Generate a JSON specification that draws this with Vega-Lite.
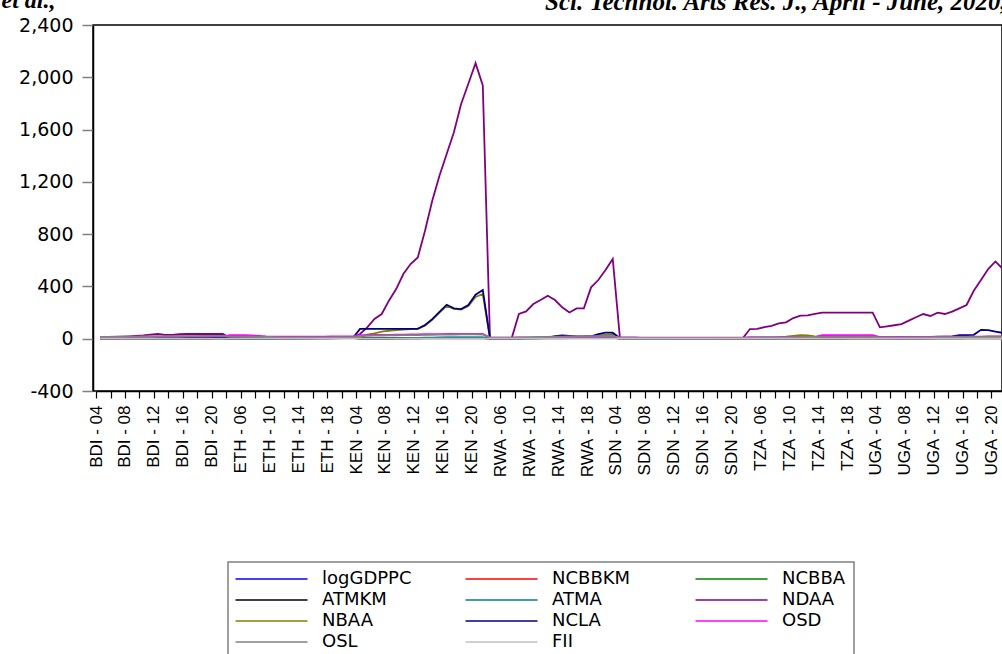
{
"$schema": "https://vega.github.io/schema/vega-lite/v6.json",
"autosize": {"type": "none"},
"padding": {"left": 93, "top": 25, "right": 0, "bottom": 263},
"width": 909,
"height": 366,
"background": "#ffffff",
"title": {"text": "Sci. Technol. Arts Res. J., April - June, 2020, 9(2), 29-44", "anchor": "start", "frame": "group", "dx": 452, "dy": 31, "offset": 4, "font": "Liberation Serif", "fontStyle": "italic", "fontWeight": "bold", "fontSize": 25, "color": "#000"},
"data": {"values": [
{"o":"BDI - 04","logGDPPC":5.4,"NCBBKM":0.8,"NCBBA":2.0,"ATMKM":0,"ATMA":0,"NDAA":10,"NBAA":2,"NCLA":3,"OSD":12,"OSL":14,"FII":0.4},
{"o":"BDI - 05","logGDPPC":5.4,"NCBBKM":0.9,"NCBBA":2.1,"ATMKM":0,"ATMA":0,"NDAA":12,"NBAA":2,"NCLA":3,"OSD":12,"OSL":14,"FII":0.4},
{"o":"BDI - 06","logGDPPC":5.4,"NCBBKM":1.0,"NCBBA":2.2,"ATMKM":0,"ATMA":0,"NDAA":14,"NBAA":2,"NCLA":3,"OSD":13,"OSL":15,"FII":0.4},
{"o":"BDI - 07","logGDPPC":5.4,"NCBBKM":1.1,"NCBBA":2.3,"ATMKM":0,"ATMA":0,"NDAA":16,"NBAA":3,"NCLA":4,"OSD":13,"OSL":15,"FII":0.4},
{"o":"BDI - 08","logGDPPC":5.5,"NCBBKM":1.2,"NCBBA":2.4,"ATMKM":0.1,"ATMA":0.2,"NDAA":18,"NBAA":3,"NCLA":4,"OSD":14,"OSL":16,"FII":0.4},
{"o":"BDI - 09","logGDPPC":5.5,"NCBBKM":1.3,"NCBBA":2.5,"ATMKM":0.2,"ATMA":0.4,"NDAA":21,"NBAA":3,"NCLA":4,"OSD":14,"OSL":16,"FII":0.5},
{"o":"BDI - 10","logGDPPC":5.5,"NCBBKM":1.4,"NCBBA":2.6,"ATMKM":0.3,"ATMA":0.6,"NDAA":25,"NBAA":3,"NCLA":5,"OSD":15,"OSL":17,"FII":0.5},
{"o":"BDI - 11","logGDPPC":5.5,"NCBBKM":1.5,"NCBBA":2.7,"ATMKM":0.4,"ATMA":0.8,"NDAA":32,"NBAA":4,"NCLA":5,"OSD":15,"OSL":17,"FII":0.5},
{"o":"BDI - 12","logGDPPC":5.5,"NCBBKM":1.6,"NCBBA":2.8,"ATMKM":0.5,"ATMA":1.0,"NDAA":36,"NBAA":4,"NCLA":5,"OSD":16,"OSL":18,"FII":0.5},
{"o":"BDI - 13","logGDPPC":5.5,"NCBBKM":1.7,"NCBBA":2.9,"ATMKM":0.6,"ATMA":1.2,"NDAA":30,"NBAA":4,"NCLA":6,"OSD":16,"OSL":18,"FII":0.5},
{"o":"BDI - 14","logGDPPC":5.6,"NCBBKM":1.8,"NCBBA":3.0,"ATMKM":0.8,"ATMA":1.5,"NDAA":30,"NBAA":4,"NCLA":6,"OSD":17,"OSL":19,"FII":0.5},
{"o":"BDI - 15","logGDPPC":5.6,"NCBBKM":1.9,"NCBBA":3.0,"ATMKM":1.0,"ATMA":1.8,"NDAA":34,"NBAA":5,"NCLA":6,"OSD":17,"OSL":19,"FII":0.5},
{"o":"BDI - 16","logGDPPC":5.6,"NCBBKM":2.0,"NCBBA":3.1,"ATMKM":1.2,"ATMA":2.0,"NDAA":36,"NBAA":5,"NCLA":7,"OSD":18,"OSL":20,"FII":0.6},
{"o":"BDI - 17","logGDPPC":5.6,"NCBBKM":2.1,"NCBBA":3.1,"ATMKM":1.4,"ATMA":2.3,"NDAA":36,"NBAA":5,"NCLA":7,"OSD":18,"OSL":20,"FII":0.6},
{"o":"BDI - 18","logGDPPC":5.6,"NCBBKM":2.2,"NCBBA":3.2,"ATMKM":1.6,"ATMA":2.5,"NDAA":36,"NBAA":5,"NCLA":7,"OSD":19,"OSL":20,"FII":0.6},
{"o":"BDI - 19","logGDPPC":5.6,"NCBBKM":2.3,"NCBBA":3.2,"ATMKM":1.8,"ATMA":2.7,"NDAA":36,"NBAA":5,"NCLA":8,"OSD":19,"OSL":21,"FII":0.6},
{"o":"BDI - 20","logGDPPC":5.5,"NCBBKM":2.4,"NCBBA":3.3,"ATMKM":2.0,"ATMA":2.9,"NDAA":36,"NBAA":5,"NCLA":8,"OSD":20,"OSL":21,"FII":0.6},
{"o":"BDI - 21","logGDPPC":5.5,"NCBBKM":2.5,"NCBBA":3.3,"ATMKM":2.1,"ATMA":3.0,"NDAA":36,"NBAA":5,"NCLA":8,"OSD":20,"OSL":21,"FII":0.6},
{"o":"ETH - 04","logGDPPC":5.0,"NCBBKM":0.3,"NCBBA":1.0,"ATMKM":0,"ATMA":0,"NDAA":5,"NBAA":3,"NCLA":2,"OSD":28,"OSL":16,"FII":0.3},
{"o":"ETH - 05","logGDPPC":5.1,"NCBBKM":0.4,"NCBBA":1.1,"ATMKM":0,"ATMA":0,"NDAA":5,"NBAA":3,"NCLA":2,"OSD":28,"OSL":16,"FII":0.3},
{"o":"ETH - 06","logGDPPC":5.2,"NCBBKM":0.5,"NCBBA":1.2,"ATMKM":0,"ATMA":0,"NDAA":5,"NBAA":3,"NCLA":2,"OSD":27,"OSL":15,"FII":0.3},
{"o":"ETH - 07","logGDPPC":5.3,"NCBBKM":0.6,"NCBBA":1.3,"ATMKM":0,"ATMA":0,"NDAA":6,"NBAA":4,"NCLA":3,"OSD":25,"OSL":15,"FII":0.3},
{"o":"ETH - 08","logGDPPC":5.4,"NCBBKM":0.7,"NCBBA":1.5,"ATMKM":0,"ATMA":0,"NDAA":6,"NBAA":4,"NCLA":3,"OSD":22,"OSL":14,"FII":0.3},
{"o":"ETH - 09","logGDPPC":5.5,"NCBBKM":0.8,"NCBBA":1.7,"ATMKM":0,"ATMA":0,"NDAA":6,"NBAA":4,"NCLA":3,"OSD":18,"OSL":13,"FII":0.3},
{"o":"ETH - 10","logGDPPC":5.6,"NCBBKM":1.0,"NCBBA":2.0,"ATMKM":0.1,"ATMA":0.1,"NDAA":7,"NBAA":5,"NCLA":3,"OSD":16,"OSL":12,"FII":0.4},
{"o":"ETH - 11","logGDPPC":5.7,"NCBBKM":1.2,"NCBBA":2.3,"ATMKM":0.2,"ATMA":0.2,"NDAA":7,"NBAA":5,"NCLA":4,"OSD":15,"OSL":11,"FII":0.4},
{"o":"ETH - 12","logGDPPC":5.8,"NCBBKM":1.5,"NCBBA":2.7,"ATMKM":0.4,"ATMA":0.3,"NDAA":7,"NBAA":5,"NCLA":4,"OSD":15,"OSL":10,"FII":0.4},
{"o":"ETH - 13","logGDPPC":5.9,"NCBBKM":1.8,"NCBBA":3.1,"ATMKM":0.7,"ATMA":0.5,"NDAA":8,"NBAA":6,"NCLA":4,"OSD":15,"OSL":10,"FII":0.4},
{"o":"ETH - 14","logGDPPC":6.0,"NCBBKM":2.2,"NCBBA":3.6,"ATMKM":1.0,"ATMA":0.8,"NDAA":8,"NBAA":6,"NCLA":4,"OSD":15,"OSL":10,"FII":0.4},
{"o":"ETH - 15","logGDPPC":6.1,"NCBBKM":2.6,"NCBBA":4.1,"ATMKM":1.5,"ATMA":1.2,"NDAA":8,"NBAA":6,"NCLA":5,"OSD":16,"OSL":10,"FII":0.4},
{"o":"ETH - 16","logGDPPC":6.2,"NCBBKM":3.0,"NCBBA":4.6,"ATMKM":2.0,"ATMA":1.7,"NDAA":8,"NBAA":7,"NCLA":5,"OSD":16,"OSL":11,"FII":0.5},
{"o":"ETH - 17","logGDPPC":6.3,"NCBBKM":3.5,"NCBBA":5.1,"ATMKM":2.8,"ATMA":2.3,"NDAA":8,"NBAA":7,"NCLA":5,"OSD":16,"OSL":11,"FII":0.5},
{"o":"ETH - 18","logGDPPC":6.4,"NCBBKM":4.0,"NCBBA":5.7,"ATMKM":3.5,"ATMA":3.0,"NDAA":8,"NBAA":7,"NCLA":5,"OSD":17,"OSL":11,"FII":0.5},
{"o":"ETH - 19","logGDPPC":6.5,"NCBBKM":4.6,"NCBBA":6.2,"ATMKM":4.3,"ATMA":3.7,"NDAA":8,"NBAA":8,"NCLA":5,"OSD":17,"OSL":12,"FII":0.5},
{"o":"ETH - 20","logGDPPC":6.6,"NCBBKM":5.2,"NCBBA":6.7,"ATMKM":5.1,"ATMA":4.4,"NDAA":8,"NBAA":8,"NCLA":5,"OSD":17,"OSL":12,"FII":0.5},
{"o":"ETH - 21","logGDPPC":6.7,"NCBBKM":6.0,"NCBBA":7.0,"ATMKM":6.0,"ATMA":5.0,"NDAA":8,"NBAA":8,"NCLA":5,"OSD":17,"OSL":12,"FII":0.5},
{"o":"KEN - 04","logGDPPC":6.3,"NCBBKM":0.9,"NCBBA":3.2,"ATMKM":0.5,"ATMA":1.0,"NDAA":36,"NBAA":10,"NCLA":75,"OSD":28,"OSL":22,"FII":0.5},
{"o":"KEN - 05","logGDPPC":6.4,"NCBBKM":1.0,"NCBBA":3.4,"ATMKM":0.7,"ATMA":1.5,"NDAA":87,"NBAA":31,"NCLA":75,"OSD":28,"OSL":22,"FII":0.5},
{"o":"KEN - 06","logGDPPC":6.5,"NCBBKM":1.1,"NCBBA":3.7,"ATMKM":0.9,"ATMA":2.0,"NDAA":151,"NBAA":41,"NCLA":75,"OSD":29,"OSL":23,"FII":0.5},
{"o":"KEN - 07","logGDPPC":6.6,"NCBBKM":1.2,"NCBBA":4.0,"ATMKM":1.2,"ATMA":2.5,"NDAA":189,"NBAA":54,"NCLA":75,"OSD":30,"OSL":24,"FII":0.5},
{"o":"KEN - 08","logGDPPC":6.7,"NCBBKM":1.4,"NCBBA":4.4,"ATMKM":1.6,"ATMA":3.0,"NDAA":291,"NBAA":61,"NCLA":75,"OSD":30,"OSL":25,"FII":0.5},
{"o":"KEN - 09","logGDPPC":6.8,"NCBBKM":1.6,"NCBBA":4.8,"ATMKM":2.0,"ATMA":4.0,"NDAA":380,"NBAA":66,"NCLA":75,"OSD":31,"OSL":26,"FII":0.5},
{"o":"KEN - 10","logGDPPC":6.9,"NCBBKM":1.8,"NCBBA":5.2,"ATMKM":2.5,"ATMA":5.0,"NDAA":495,"NBAA":69,"NCLA":75,"OSD":32,"OSL":27,"FII":0.5},
{"o":"KEN - 11","logGDPPC":7.0,"NCBBKM":2.0,"NCBBA":5.5,"ATMKM":3.0,"ATMA":6.0,"NDAA":571,"NBAA":74,"NCLA":75,"OSD":33,"OSL":28,"FII":0.5},
{"o":"KEN - 12","logGDPPC":7.0,"NCBBKM":2.1,"NCBBA":5.7,"ATMKM":3.5,"ATMA":7.0,"NDAA":622,"NBAA":77,"NCLA":75,"OSD":33,"OSL":28,"FII":0.5},
{"o":"KEN - 13","logGDPPC":7.1,"NCBBKM":2.2,"NCBBA":5.8,"ATMKM":4.0,"ATMA":8.0,"NDAA":826,"NBAA":100,"NCLA":105,"OSD":34,"OSL":29,"FII":0.5},
{"o":"KEN - 14","logGDPPC":7.1,"NCBBKM":2.3,"NCBBA":5.9,"ATMKM":4.3,"ATMA":8.5,"NDAA":1056,"NBAA":145,"NCLA":150,"OSD":35,"OSL":30,"FII":0.5},
{"o":"KEN - 15","logGDPPC":7.2,"NCBBKM":2.3,"NCBBA":6.0,"ATMKM":4.6,"ATMA":9.0,"NDAA":1247,"NBAA":200,"NCLA":205,"OSD":35,"OSL":31,"FII":0.5},
{"o":"KEN - 16","logGDPPC":7.2,"NCBBKM":2.4,"NCBBA":6.0,"ATMKM":4.8,"ATMA":9.5,"NDAA":1413,"NBAA":250,"NCLA":260,"OSD":36,"OSL":32,"FII":0.5},
{"o":"KEN - 17","logGDPPC":7.3,"NCBBKM":2.4,"NCBBA":5.9,"ATMKM":5.0,"ATMA":10,"NDAA":1579,"NBAA":228,"NCLA":232,"OSD":36,"OSL":32,"FII":0.5},
{"o":"KEN - 18","logGDPPC":7.3,"NCBBKM":2.5,"NCBBA":5.8,"ATMKM":5.0,"ATMA":10,"NDAA":1796,"NBAA":222,"NCLA":227,"OSD":36,"OSL":33,"FII":0.5},
{"o":"KEN - 19","logGDPPC":7.4,"NCBBKM":2.5,"NCBBA":5.7,"ATMKM":4.9,"ATMA":9.8,"NDAA":1950,"NBAA":250,"NCLA":258,"OSD":37,"OSL":33,"FII":0.5},
{"o":"KEN - 20","logGDPPC":7.4,"NCBBKM":2.6,"NCBBA":5.6,"ATMKM":4.8,"ATMA":9.6,"NDAA":2108,"NBAA":320,"NCLA":337,"OSD":37,"OSL":33,"FII":0.5},
{"o":"KEN - 21","logGDPPC":7.5,"NCBBKM":2.6,"NCBBA":5.5,"ATMKM":4.7,"ATMA":9.5,"NDAA":1937,"NBAA":342,"NCLA":373,"OSD":37,"OSL":32,"FII":0.5},
{"o":"RWA - 04","logGDPPC":5.6,"NCBBKM":2.5,"NCBBA":2.0,"ATMKM":0,"ATMA":0,"NDAA":0,"NBAA":2,"NCLA":2,"OSD":8,"OSL":8,"FII":0.4},
{"o":"RWA - 05","logGDPPC":5.7,"NCBBKM":2.7,"NCBBA":2.1,"ATMKM":0,"ATMA":0,"NDAA":0,"NBAA":2,"NCLA":2,"OSD":8,"OSL":8,"FII":0.4},
{"o":"RWA - 06","logGDPPC":5.8,"NCBBKM":3.0,"NCBBA":2.3,"ATMKM":0,"ATMA":0,"NDAA":0,"NBAA":2,"NCLA":2,"OSD":9,"OSL":9,"FII":0.4},
{"o":"RWA - 07","logGDPPC":5.9,"NCBBKM":3.3,"NCBBA":2.5,"ATMKM":0.5,"ATMA":0.2,"NDAA":3,"NBAA":2,"NCLA":3,"OSD":9,"OSL":9,"FII":0.4},
{"o":"RWA - 08","logGDPPC":6.0,"NCBBKM":3.7,"NCBBA":2.8,"ATMKM":1,"ATMA":0.4,"NDAA":189,"NBAA":3,"NCLA":3,"OSD":10,"OSL":10,"FII":0.4},
{"o":"RWA - 09","logGDPPC":6.1,"NCBBKM":4.1,"NCBBA":3.2,"ATMKM":2,"ATMA":0.8,"NDAA":209,"NBAA":3,"NCLA":4,"OSD":10,"OSL":11,"FII":0.4},
{"o":"RWA - 10","logGDPPC":6.2,"NCBBKM":4.6,"NCBBA":3.7,"ATMKM":3,"ATMA":1.2,"NDAA":265,"NBAA":4,"NCLA":4,"OSD":11,"OSL":12,"FII":0.4},
{"o":"RWA - 11","logGDPPC":6.3,"NCBBKM":5.1,"NCBBA":4.2,"ATMKM":4,"ATMA":1.7,"NDAA":296,"NBAA":5,"NCLA":5,"OSD":11,"OSL":13,"FII":0.4},
{"o":"RWA - 12","logGDPPC":6.4,"NCBBKM":5.6,"NCBBA":4.7,"ATMKM":6,"ATMA":2.2,"NDAA":329,"NBAA":6,"NCLA":8,"OSD":12,"OSL":14,"FII":0.4},
{"o":"RWA - 13","logGDPPC":6.4,"NCBBKM":6.1,"NCBBA":5.2,"ATMKM":8,"ATMA":2.8,"NDAA":296,"NBAA":8,"NCLA":20,"OSD":12,"OSL":15,"FII":0.4},
{"o":"RWA - 14","logGDPPC":6.5,"NCBBKM":6.6,"NCBBA":5.6,"ATMKM":10,"ATMA":3.4,"NDAA":240,"NBAA":10,"NCLA":25,"OSD":13,"OSL":16,"FII":0.4},
{"o":"RWA - 15","logGDPPC":6.5,"NCBBKM":7.0,"NCBBA":5.9,"ATMKM":12,"ATMA":4.0,"NDAA":201,"NBAA":12,"NCLA":22,"OSD":13,"OSL":17,"FII":0.4},
{"o":"RWA - 16","logGDPPC":6.6,"NCBBKM":7.3,"NCBBA":6.1,"ATMKM":13,"ATMA":4.6,"NDAA":232,"NBAA":14,"NCLA":18,"OSD":14,"OSL":18,"FII":0.4},
{"o":"RWA - 17","logGDPPC":6.6,"NCBBKM":7.6,"NCBBA":6.2,"ATMKM":14,"ATMA":5.1,"NDAA":232,"NBAA":15,"NCLA":18,"OSD":14,"OSL":18,"FII":0.4},
{"o":"RWA - 18","logGDPPC":6.6,"NCBBKM":7.8,"NCBBA":6.2,"ATMKM":15,"ATMA":5.5,"NDAA":393,"NBAA":18,"NCLA":18,"OSD":15,"OSL":19,"FII":0.4},
{"o":"RWA - 19","logGDPPC":6.7,"NCBBKM":8.0,"NCBBA":6.1,"ATMKM":15,"ATMA":5.8,"NDAA":449,"NBAA":25,"NCLA":36,"OSD":15,"OSL":19,"FII":0.4},
{"o":"RWA - 20","logGDPPC":6.7,"NCBBKM":8.0,"NCBBA":6.0,"ATMKM":16,"ATMA":6.0,"NDAA":525,"NBAA":30,"NCLA":46,"OSD":16,"OSL":20,"FII":0.4},
{"o":"RWA - 21","logGDPPC":6.7,"NCBBKM":8.0,"NCBBA":5.9,"ATMKM":16,"ATMA":6.0,"NDAA":610,"NBAA":35,"NCLA":46,"OSD":16,"OSL":20,"FII":0.4},
{"o":"SDN - 04","logGDPPC":6.6,"NCBBKM":0.2,"NCBBA":2.0,"ATMKM":0.1,"ATMA":0,"NDAA":3,"NBAA":3,"NCLA":4,"OSD":10,"OSL":8,"FII":0.3},
{"o":"SDN - 05","logGDPPC":6.7,"NCBBKM":0.2,"NCBBA":2.1,"ATMKM":0.1,"ATMA":0.2,"NDAA":3,"NBAA":3,"NCLA":4,"OSD":10,"OSL":8,"FII":0.3},
{"o":"SDN - 06","logGDPPC":6.8,"NCBBKM":0.2,"NCBBA":2.2,"ATMKM":0.1,"ATMA":0.4,"NDAA":3,"NBAA":3,"NCLA":4,"OSD":10,"OSL":8,"FII":0.3},
{"o":"SDN - 07","logGDPPC":6.9,"NCBBKM":0.2,"NCBBA":2.3,"ATMKM":0.1,"ATMA":0.6,"NDAA":3,"NBAA":3,"NCLA":5,"OSD":9,"OSL":7,"FII":0.3},
{"o":"SDN - 08","logGDPPC":7.0,"NCBBKM":0.3,"NCBBA":2.4,"ATMKM":0.2,"ATMA":0.9,"NDAA":3,"NBAA":3,"NCLA":5,"OSD":9,"OSL":7,"FII":0.3},
{"o":"SDN - 09","logGDPPC":7.0,"NCBBKM":0.3,"NCBBA":2.5,"ATMKM":0.2,"ATMA":1.2,"NDAA":3,"NBAA":3,"NCLA":5,"OSD":9,"OSL":7,"FII":0.3},
{"o":"SDN - 10","logGDPPC":7.1,"NCBBKM":0.3,"NCBBA":2.5,"ATMKM":0.2,"ATMA":1.5,"NDAA":3,"NBAA":3,"NCLA":5,"OSD":8,"OSL":7,"FII":0.3},
{"o":"SDN - 11","logGDPPC":7.1,"NCBBKM":0.3,"NCBBA":2.6,"ATMKM":0.2,"ATMA":1.8,"NDAA":3,"NBAA":3,"NCLA":5,"OSD":8,"OSL":6,"FII":0.3},
{"o":"SDN - 12","logGDPPC":7.0,"NCBBKM":0.3,"NCBBA":2.6,"ATMKM":0.3,"ATMA":2.1,"NDAA":3,"NBAA":3,"NCLA":5,"OSD":8,"OSL":6,"FII":0.3},
{"o":"SDN - 13","logGDPPC":7.0,"NCBBKM":0.3,"NCBBA":2.7,"ATMKM":0.3,"ATMA":2.4,"NDAA":3,"NBAA":3,"NCLA":5,"OSD":8,"OSL":6,"FII":0.3},
{"o":"SDN - 14","logGDPPC":7.0,"NCBBKM":0.3,"NCBBA":2.7,"ATMKM":0.3,"ATMA":2.7,"NDAA":3,"NBAA":3,"NCLA":5,"OSD":8,"OSL":6,"FII":0.3},
{"o":"SDN - 15","logGDPPC":7.0,"NCBBKM":0.3,"NCBBA":2.8,"ATMKM":0.3,"ATMA":3.0,"NDAA":3,"NBAA":3,"NCLA":6,"OSD":8,"OSL":6,"FII":0.3},
{"o":"SDN - 16","logGDPPC":6.9,"NCBBKM":0.4,"NCBBA":2.8,"ATMKM":0.4,"ATMA":3.3,"NDAA":3,"NBAA":3,"NCLA":6,"OSD":8,"OSL":6,"FII":0.3},
{"o":"SDN - 17","logGDPPC":6.9,"NCBBKM":0.4,"NCBBA":2.9,"ATMKM":0.4,"ATMA":3.6,"NDAA":3,"NBAA":3,"NCLA":6,"OSD":8,"OSL":6,"FII":0.3},
{"o":"SDN - 18","logGDPPC":6.8,"NCBBKM":0.4,"NCBBA":2.9,"ATMKM":0.4,"ATMA":4.0,"NDAA":3,"NBAA":3,"NCLA":6,"OSD":8,"OSL":6,"FII":0.3},
{"o":"SDN - 19","logGDPPC":6.8,"NCBBKM":0.4,"NCBBA":3.0,"ATMKM":0.5,"ATMA":4.3,"NDAA":3,"NBAA":3,"NCLA":6,"OSD":8,"OSL":6,"FII":0.3},
{"o":"SDN - 20","logGDPPC":6.7,"NCBBKM":0.4,"NCBBA":3.0,"ATMKM":0.5,"ATMA":4.6,"NDAA":3,"NBAA":3,"NCLA":6,"OSD":8,"OSL":6,"FII":0.3},
{"o":"SDN - 21","logGDPPC":6.7,"NCBBKM":0.4,"NCBBA":3.0,"ATMKM":0.5,"ATMA":5.0,"NDAA":3,"NBAA":3,"NCLA":6,"OSD":8,"OSL":6,"FII":0.3},
{"o":"TZA - 04","logGDPPC":6.1,"NCBBKM":0.3,"NCBBA":1.5,"ATMKM":0,"ATMA":0,"NDAA":74,"NBAA":3,"NCLA":5,"OSD":12,"OSL":9,"FII":0.4},
{"o":"TZA - 05","logGDPPC":6.2,"NCBBKM":0.3,"NCBBA":1.5,"ATMKM":0,"ATMA":0.3,"NDAA":76,"NBAA":4,"NCLA":5,"OSD":12,"OSL":9,"FII":0.4},
{"o":"TZA - 06","logGDPPC":6.2,"NCBBKM":0.4,"NCBBA":1.6,"ATMKM":0.1,"ATMA":0.7,"NDAA":88,"NBAA":5,"NCLA":6,"OSD":12,"OSL":10,"FII":0.4},
{"o":"TZA - 07","logGDPPC":6.3,"NCBBKM":0.4,"NCBBA":1.7,"ATMKM":0.2,"ATMA":1.2,"NDAA":99,"NBAA":6,"NCLA":6,"OSD":12,"OSL":10,"FII":0.4},
{"o":"TZA - 08","logGDPPC":6.3,"NCBBKM":0.5,"NCBBA":1.8,"ATMKM":0.3,"ATMA":1.8,"NDAA":117,"NBAA":10,"NCLA":7,"OSD":12,"OSL":11,"FII":0.4},
{"o":"TZA - 09","logGDPPC":6.4,"NCBBKM":0.5,"NCBBA":1.9,"ATMKM":0.4,"ATMA":2.5,"NDAA":125,"NBAA":15,"NCLA":8,"OSD":12,"OSL":11,"FII":0.4},
{"o":"TZA - 10","logGDPPC":6.4,"NCBBKM":0.6,"NCBBA":2.0,"ATMKM":0.5,"ATMA":3.2,"NDAA":158,"NBAA":22,"NCLA":9,"OSD":13,"OSL":12,"FII":0.4},
{"o":"TZA - 11","logGDPPC":6.5,"NCBBKM":0.6,"NCBBA":2.1,"ATMKM":0.7,"ATMA":3.9,"NDAA":176,"NBAA":27,"NCLA":10,"OSD":13,"OSL":12,"FII":0.4},
{"o":"TZA - 12","logGDPPC":6.5,"NCBBKM":0.7,"NCBBA":2.2,"ATMKM":0.9,"ATMA":4.5,"NDAA":178,"NBAA":26,"NCLA":12,"OSD":13,"OSL":13,"FII":0.4},
{"o":"TZA - 13","logGDPPC":6.6,"NCBBKM":0.7,"NCBBA":2.3,"ATMKM":1.1,"ATMA":5.0,"NDAA":190,"NBAA":18,"NCLA":14,"OSD":13,"OSL":13,"FII":0.4},
{"o":"TZA - 14","logGDPPC":6.6,"NCBBKM":0.8,"NCBBA":2.4,"ATMKM":1.3,"ATMA":5.5,"NDAA":199,"NBAA":15,"NCLA":15,"OSD":28,"OSL":14,"FII":0.4},
{"o":"TZA - 15","logGDPPC":6.7,"NCBBKM":0.8,"NCBBA":2.4,"ATMKM":1.5,"ATMA":6.0,"NDAA":199,"NBAA":15,"NCLA":16,"OSD":28,"OSL":14,"FII":0.4},
{"o":"TZA - 16","logGDPPC":6.7,"NCBBKM":0.9,"NCBBA":2.5,"ATMKM":1.7,"ATMA":6.3,"NDAA":199,"NBAA":15,"NCLA":17,"OSD":28,"OSL":15,"FII":0.4},
{"o":"TZA - 17","logGDPPC":6.8,"NCBBKM":0.9,"NCBBA":2.5,"ATMKM":1.8,"ATMA":6.6,"NDAA":199,"NBAA":15,"NCLA":18,"OSD":28,"OSL":15,"FII":0.4},
{"o":"TZA - 18","logGDPPC":6.8,"NCBBKM":1.0,"NCBBA":2.5,"ATMKM":1.9,"ATMA":6.8,"NDAA":199,"NBAA":15,"NCLA":18,"OSD":28,"OSL":15,"FII":0.4},
{"o":"TZA - 19","logGDPPC":6.8,"NCBBKM":1.0,"NCBBA":2.4,"ATMKM":2.0,"ATMA":7.0,"NDAA":199,"NBAA":15,"NCLA":18,"OSD":28,"OSL":15,"FII":0.4},
{"o":"TZA - 20","logGDPPC":6.9,"NCBBKM":1.0,"NCBBA":2.4,"ATMKM":2.0,"ATMA":7.0,"NDAA":199,"NBAA":15,"NCLA":18,"OSD":28,"OSL":15,"FII":0.4},
{"o":"TZA - 21","logGDPPC":6.9,"NCBBKM":1.0,"NCBBA":2.4,"ATMKM":2.0,"ATMA":7.0,"NDAA":199,"NBAA":15,"NCLA":18,"OSD":28,"OSL":15,"FII":0.4},
{"o":"UGA - 04","logGDPPC":5.7,"NCBBKM":0.7,"NCBBA":2.0,"ATMKM":0,"ATMA":0,"NDAA":87,"NBAA":3,"NCLA":10,"OSD":12,"OSL":8,"FII":0.4},
{"o":"UGA - 05","logGDPPC":5.8,"NCBBKM":0.8,"NCBBA":2.0,"ATMKM":0.1,"ATMA":0.2,"NDAA":95,"NBAA":3,"NCLA":10,"OSD":12,"OSL":8,"FII":0.4},
{"o":"UGA - 06","logGDPPC":5.9,"NCBBKM":0.9,"NCBBA":2.1,"ATMKM":0.3,"ATMA":0.4,"NDAA":103,"NBAA":4,"NCLA":11,"OSD":12,"OSL":9,"FII":0.4},
{"o":"UGA - 07","logGDPPC":6.0,"NCBBKM":1.0,"NCBBA":2.1,"ATMKM":0.5,"ATMA":0.7,"NDAA":112,"NBAA":4,"NCLA":11,"OSD":13,"OSL":9,"FII":0.4},
{"o":"UGA - 08","logGDPPC":6.1,"NCBBKM":1.2,"NCBBA":2.2,"ATMKM":0.8,"ATMA":1.0,"NDAA":138,"NBAA":5,"NCLA":12,"OSD":13,"OSL":10,"FII":0.4},
{"o":"UGA - 09","logGDPPC":6.2,"NCBBKM":1.4,"NCBBA":2.3,"ATMKM":1.1,"ATMA":1.4,"NDAA":164,"NBAA":5,"NCLA":12,"OSD":13,"OSL":10,"FII":0.4},
{"o":"UGA - 10","logGDPPC":6.2,"NCBBKM":1.6,"NCBBA":2.4,"ATMKM":1.5,"ATMA":1.8,"NDAA":189,"NBAA":6,"NCLA":13,"OSD":14,"OSL":11,"FII":0.4},
{"o":"UGA - 11","logGDPPC":6.3,"NCBBKM":1.8,"NCBBA":2.5,"ATMKM":1.9,"ATMA":2.2,"NDAA":174,"NBAA":6,"NCLA":14,"OSD":14,"OSL":11,"FII":0.4},
{"o":"UGA - 12","logGDPPC":6.3,"NCBBKM":2.0,"NCBBA":2.6,"ATMKM":2.3,"ATMA":2.6,"NDAA":199,"NBAA":7,"NCLA":15,"OSD":14,"OSL":12,"FII":0.4},
{"o":"UGA - 13","logGDPPC":6.4,"NCBBKM":2.2,"NCBBA":2.7,"ATMKM":2.7,"ATMA":3.0,"NDAA":189,"NBAA":8,"NCLA":16,"OSD":15,"OSL":12,"FII":0.4},
{"o":"UGA - 14","logGDPPC":6.4,"NCBBKM":2.4,"NCBBA":2.8,"ATMKM":3.1,"ATMA":3.4,"NDAA":207,"NBAA":9,"NCLA":18,"OSD":15,"OSL":12,"FII":0.4},
{"o":"UGA - 15","logGDPPC":6.5,"NCBBKM":2.5,"NCBBA":2.9,"ATMKM":3.5,"ATMA":3.8,"NDAA":232,"NBAA":10,"NCLA":28,"OSD":15,"OSL":13,"FII":0.4},
{"o":"UGA - 16","logGDPPC":6.5,"NCBBKM":2.6,"NCBBA":3.0,"ATMKM":3.9,"ATMA":4.1,"NDAA":258,"NBAA":11,"NCLA":28,"OSD":16,"OSL":13,"FII":0.4},
{"o":"UGA - 17","logGDPPC":6.5,"NCBBKM":2.7,"NCBBA":3.0,"ATMKM":4.2,"ATMA":4.4,"NDAA":367,"NBAA":12,"NCLA":30,"OSD":16,"OSL":13,"FII":0.4},
{"o":"UGA - 18","logGDPPC":6.6,"NCBBKM":2.8,"NCBBA":3.0,"ATMKM":4.5,"ATMA":4.7,"NDAA":449,"NBAA":14,"NCLA":68,"OSD":16,"OSL":13,"FII":0.4},
{"o":"UGA - 19","logGDPPC":6.6,"NCBBKM":2.9,"NCBBA":2.9,"ATMKM":4.7,"ATMA":4.9,"NDAA":533,"NBAA":15,"NCLA":66,"OSD":17,"OSL":13,"FII":0.4},
{"o":"UGA - 20","logGDPPC":6.6,"NCBBKM":3.0,"NCBBA":2.9,"ATMKM":4.9,"ATMA":5.0,"NDAA":591,"NBAA":16,"NCLA":55,"OSD":17,"OSL":13,"FII":0.4},
{"o":"UGA - 21","logGDPPC":6.7,"NCBBKM":3.0,"NCBBA":2.8,"ATMKM":5.0,"ATMA":5.0,"NDAA":535,"NBAA":16,"NCLA":45,"OSD":17,"OSL":13,"FII":0.4}
]},
"transform": [{"fold": ["logGDPPC","NCBBKM","NCBBA","ATMKM","ATMA","NDAA","NBAA","NCLA","OSD","OSL","FII"], "as": ["series","value"]}],
"mark": {"type": "line", "strokeWidth": 1.8},
"encoding": {
"x": {"field": "o", "type": "ordinal", "sort": null,
 "scale": {"type": "point", "range": [3.5, 913.25]},
 "axis": {"title": null,
  "values": ["BDI - 04","BDI - 06","BDI - 08","BDI - 10","BDI - 12","BDI - 14","BDI - 16","BDI - 18","BDI - 20","ETH - 04","ETH - 06","ETH - 08","ETH - 10","ETH - 12","ETH - 14","ETH - 16","ETH - 18","ETH - 20","KEN - 04","KEN - 06","KEN - 08","KEN - 10","KEN - 12","KEN - 14","KEN - 16","KEN - 18","KEN - 20","RWA - 04","RWA - 06","RWA - 08","RWA - 10","RWA - 12","RWA - 14","RWA - 16","RWA - 18","RWA - 20","SDN - 04","SDN - 06","SDN - 08","SDN - 10","SDN - 12","SDN - 14","SDN - 16","SDN - 18","SDN - 20","TZA - 04","TZA - 06","TZA - 08","TZA - 10","TZA - 12","TZA - 14","TZA - 16","TZA - 18","TZA - 20","UGA - 04","UGA - 06","UGA - 08","UGA - 10","UGA - 12","UGA - 14","UGA - 16","UGA - 18","UGA - 20"],
  "labelExpr": "indexof(['BDI - 04','BDI - 08','BDI - 12','BDI - 16','BDI - 20','ETH - 06','ETH - 10','ETH - 14','ETH - 18','KEN - 04','KEN - 08','KEN - 12','KEN - 16','KEN - 20','RWA - 06','RWA - 10','RWA - 14','RWA - 18','SDN - 04','SDN - 08','SDN - 12','SDN - 16','SDN - 20','TZA - 06','TZA - 10','TZA - 14','TZA - 18','UGA - 04','UGA - 08','UGA - 12','UGA - 16','UGA - 20'], datum.value) >= 0 ? datum.value : ''",
  "labelAngle": 270, "labelFont": "Liberation Sans", "labelFontSize": 17, "labelColor": "#000",
  "labelOverlap": false, "labelBound": false, "labelFlush": false,
  "tickColor": "#000", "tickSize": 7, "tickWidth": 1.2, "tickOffset": -4, "labelPadding": 7,
  "domainColor": "#000", "domainWidth": 1.5, "grid": false}},
"y": {"field": "value", "type": "quantitative",
 "scale": {"domain": [-400, 2400], "nice": false, "zero": false},
 "axis": {"title": "et al.,", "titleAngle": 0, "titleX": -92, "titleY": -18, "titleAlign": "left", "titleBaseline": "alphabetic",
  "titleFont": "Liberation Serif", "titleFontStyle": "italic", "titleFontWeight": "bold", "titleFontSize": 24, "titleColor": "#000",
  "values": [-400, 0, 400, 800, 1200, 1600, 2000, 2400],
  "labelExpr": "datum.value < 0 ? '-' + format(-datum.value, ',') : format(datum.value, ',')",
  "labelFont": "DejaVu Sans", "labelFontSize": 19, "labelColor": "#000",
  "tickColor": "#808080", "tickSize": 11, "tickWidth": 1.5, "labelPadding": 9,
  "domainColor": "#000", "domainWidth": 1.5, "grid": false}},
"color": {"field": "series", "type": "nominal",
 "scale": {"domain": ["logGDPPC","NCBBKM","NCBBA","ATMKM","ATMA","NDAA","NBAA","NCLA","OSD","OSL","FII"],
  "range": ["#0000ff","#ff0000","#008000","#000000","#008080","#800080","#808000","#000080","#ff00ff","#808080","#c0c0c0"]},
 "legend": {"title": null, "orient": "none", "direction": "horizontal", "legendX": 135, "legendY": 537, "columns": 3, "gridAlign": "all",
  "columnPadding": 50, "rowPadding": 3, "symbolType": "M-1.34,0H8.84", "symbolSize": 200, "symbolStrokeWidth": 1.5,
  "labelOffset": 68, "labelFont": "DejaVu Sans", "labelFontSize": 18, "labelColor": "#000", "labelLimit": 300,
  "strokeColor": "#808080", "padding": 8, "fillColor": "#ffffff",
  "encode": {"legend": {"update": {"strokeWidth": {"value": 1.5}}}}}}
},
"config": {"view": {"stroke": "#000", "strokeWidth": 1.5}}
}
